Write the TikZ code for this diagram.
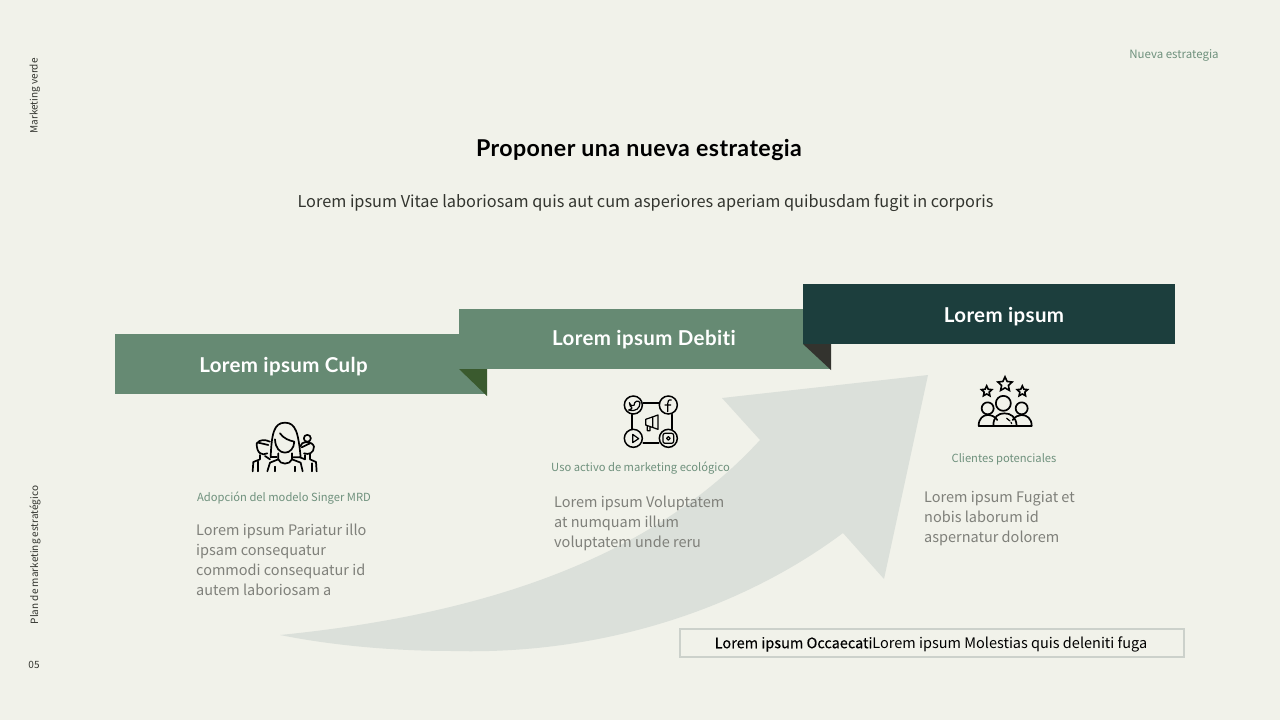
\documentclass[tikz,border=0pt]{standalone}
\usepackage{fontspec}
\setmainfont{Noto Sans CJK SC}
\newfontfamily\headfont{Lato Bold}[LetterSpace=1.8,Ligatures=NoCommon]
\newfontfamily\medfont{Noto Sans CJK SC}[FakeBold=0.25]
\usetikzlibrary{shapes.geometric}
\definecolor{bgc}{HTML}{F1F2EA}
\definecolor{barg}{HTML}{668A73}
\definecolor{bard}{HTML}{1C3E3D}
\definecolor{foldg}{HTML}{3A5A2E}
\definecolor{foldd}{HTML}{33332E}
\definecolor{arrowc}{HTML}{DBE0DA}
\definecolor{labg}{HTML}{6F917D}
\definecolor{bodyc}{HTML}{7F807A}
\definecolor{darkt}{HTML}{33352F}
\definecolor{boxl}{HTML}{CCD1CB}
\tikzset{
  side/.style={font=\fontsize{10}{12}\selectfont,text=darkt,inner sep=0pt,rotate=90},
  bartext/.style={font=\headfont\fontsize{20.5}{24}\selectfont,text=white,inner sep=0pt},
  caption/.style={font=\fontsize{11.2}{14}\selectfont,text=labg,inner sep=0pt},
  bodytext/.style={font=\fontsize{14.5}{20}\selectfont,text=bodyc,inner sep=0pt,align=left,anchor=north west},
  ico/.style={draw=black,line width=1.7pt,line cap=round,line join=round},
  icothin/.style={draw=black,line width=1.2pt,line cap=round,line join=round},
}
\begin{document}
\begin{tikzpicture}[x=1pt,y=-1pt]
\useasboundingbox (0,0) rectangle (1280,720);
\fill[bgc] (0,0) rectangle (1280,720);
% big arrow
\fill[arrowc] (280,635) .. controls (480,615) and (650,560) .. (760,440) -- (722,398) -- (928,375) -- (884,579) -- (843,533) .. controls (740,610) and (600,655) .. (453,651) .. controls (390,651) and (330,645) .. (280,635) -- cycle;
% bars
\fill[barg] (115,334) rectangle (487,394);
\fill[foldg] (459,369) -- (487,369) -- (487,396) -- cycle;
\fill[barg] (459,309) rectangle (831,369);
\fill[foldd] (803,344) -- (831,344) -- (831,370) -- cycle;
\fill[bard] (803,284) rectangle (1175,344);
\node[bartext] (b1) at (283.5,367) {Lorem ipsum Culp};
\node[bartext] (b2) at (644,339.5) {Lorem ipsum Debiti};
\node[bartext] (b3) at (1004,317) {Lorem ipsum};
% side
\node[side] (s1) at (35,96) {Marketing verde};
\node[side] (s2) at (35,555) {Plan de marketing estratégico};
\node[font=\fontsize{10}{12}\selectfont,text=darkt,inner sep=0pt] (s3) at (34,665) {05};
\node[font=\fontsize{11.5}{14}\selectfont,text=labg,inner sep=0pt] (top) at (1174,55) {Nueva estrategia};
% heading
\node[font=\headfont\fontsize{23.2}{28}\selectfont,text=black,inner sep=0pt] (title) at (639,150) {Proponer una nueva estrategia};
\node[font=\fontsize{16.3}{22}\selectfont,text=darkt,inner sep=0pt] (sub) at (645.5,203) {Lorem ipsum Vitae laboriosam quis aut cum asperiores aperiam quibusdam fugit in corporis};
% captions
\node[caption] (c1) at (284,498) {Adopción del modelo Singer MRD};
\node[caption] (c2) at (640.5,468) {Uso activo de marketing ecológico};
\node[caption] (c3) at (1004,459) {Clientes potenciales};
% bodies
\node[bodytext] (t1) at (196,523.5) {Lorem ipsum Pariatur illo\\ipsam consequatur\\commodi consequatur id\\autem laboriosam a};
\node[bodytext] (t2) at (554,495.5) {Lorem ipsum Voluptatem\\at numquam illum\\voluptatem unde reru};
\node[bodytext] (t3) at (924,491.5) {Lorem ipsum Fugiat et\\nobis laborum id\\aspernatur dolorem};
% bottom box
\node[draw=boxl,line width=1.6pt,fill=bgc,minimum width=504pt,minimum height=28pt,inner sep=0pt] (box) at (932,643) {};
\node[font=\fontsize{14.5}{18}\selectfont,text=black,inner sep=0pt] (boxt) at (931,644.2) {{\medfont Lorem ipsum Occaecati}Lorem ipsum Molestias quis deleniti fuga};
% icon 1: people
\begin{scope}[shift={(230,400)},x=0.3333pt,y=-0.3333pt]
\draw[ico] (122,172) .. controls (125,100) and (132,68) .. (165,68) .. controls (198,68) and (205,100) .. (212,172) -- (190,172);
\draw[ico] (122,172) -- (140,172);
\draw[ico] (135,118) .. controls (136,145) and (150,158) .. (165,158) .. controls (180,158) and (192,145) .. (193,125) .. controls (178,122) and (160,115) .. (150,100);
\draw[ico] (145,160) -- (145,178) .. controls (150,195) and (180,195) .. (186,178) -- (186,160);
\draw[ico] (145,178) -- (120,188) -- (112,214) (186,178) -- (212,188) -- (218,214);
\draw[ico] (135,200) -- (135,214) (195,200) -- (195,214);
\draw[ico] (80,130) .. controls (90,118) and (105,118) .. (120,125) (80,130) .. controls (80,160) and (95,168) .. (112,160);
\draw[ico] (85,128) -- (115,135);
\draw[ico] (90,165) -- (90,178) -- (70,186) -- (68,214) (105,168) -- (120,178);
\draw[ico] (85,185) -- (85,214);
\draw[ico] (232,115) circle[radius=3.5pt];
\draw[ico] (210,140) .. controls (212,122) and (248,122) .. (252,140) .. controls (252,160) and (235,165) .. (222,160);
\draw[ico] (215,142) -- (240,130);
\draw[ico] (225,165) -- (225,178) -- (210,172) (240,162) -- (240,178) -- (258,186) -- (260,214);
\draw[ico] (245,190) -- (245,214);
\end{scope}
% icon 2: social
\begin{scope}[shift={(600,380)},x=0.3333pt,y=-0.3333pt]
\foreach \n/\cx/\cy in {a/100/75,b/205/75,c/100/175,d/205/175}
  \node[draw=black,line width=1.5pt,circle,minimum size=18pt,inner sep=0pt] (soc\n) at (\cx,\cy) {};
\draw[ico] (130,68) -- (176,68) (95,104) -- (95,148) (215,104) -- (215,148) (130,188) -- (176,188);
\draw[icothin] (88,68) .. controls (92,78) and (98,78) .. (102,76) .. controls (102,62) and (116,60) .. (120,68) .. controls (120,85) and (108,96) .. (86,90) .. controls (92,88) and (96,86) .. (96,84) .. controls (92,80) and (88,76) .. (88,68) -- cycle;
\draw[icothin] (214,60) .. controls (205,57) and (203,65) .. (203,72) -- (203,95) (195,75) -- (212,75);
\draw[icothin] (98,163) -- (116,176) -- (98,188) -- cycle;
\draw[icothin,rounded corners=2pt] (189,160) rectangle (221,190);
\draw[icothin] (205,175) circle[radius=1.8pt];
\draw[icothin] (137,118) -- (174,105) -- (174,148) -- (137,135) -- cycle (158,112) -- (158,141) (142,137) -- (142,152) -- (150,152) -- (150,140);
\end{scope}
% icon 3: stars and people
\begin{scope}[shift={(960,365)},x=0.3333pt,y=-0.3333pt]
\node[draw=black,line width=1.6pt,star,star points=5,star point ratio=2.1,minimum size=15pt,inner sep=0pt] (st1) at (135,58) {};
\node[draw=black,line width=1.6pt,star,star points=5,star point ratio=2.1,minimum size=11pt,inner sep=0pt] (st2) at (80,79) {};
\node[draw=black,line width=1.6pt,star,star points=5,star point ratio=2.1,minimum size=11pt,inner sep=0pt] (st3) at (187,79) {};
\draw[ico] (130,115) circle[radius=7.5pt] (83,130) circle[radius=6pt] (185,130) circle[radius=6pt];
\draw[ico] (56,182) -- (215,182);
\draw[ico] (56,182) .. controls (56,160) and (70,150) .. (83,150) .. controls (95,150) and (105,155) .. (112,165);
\draw[ico] (215,182) .. controls (215,160) and (200,150) .. (185,150) .. controls (175,150) and (165,155) .. (158,165);
\draw[ico] (100,182) .. controls (100,155) and (115,145) .. (133,145) .. controls (152,145) and (168,155) .. (170,182);
\draw[icothin] (140,160) -- (150,168) (153,172) -- (155,176);
\end{scope}
\end{tikzpicture}
\end{document}
